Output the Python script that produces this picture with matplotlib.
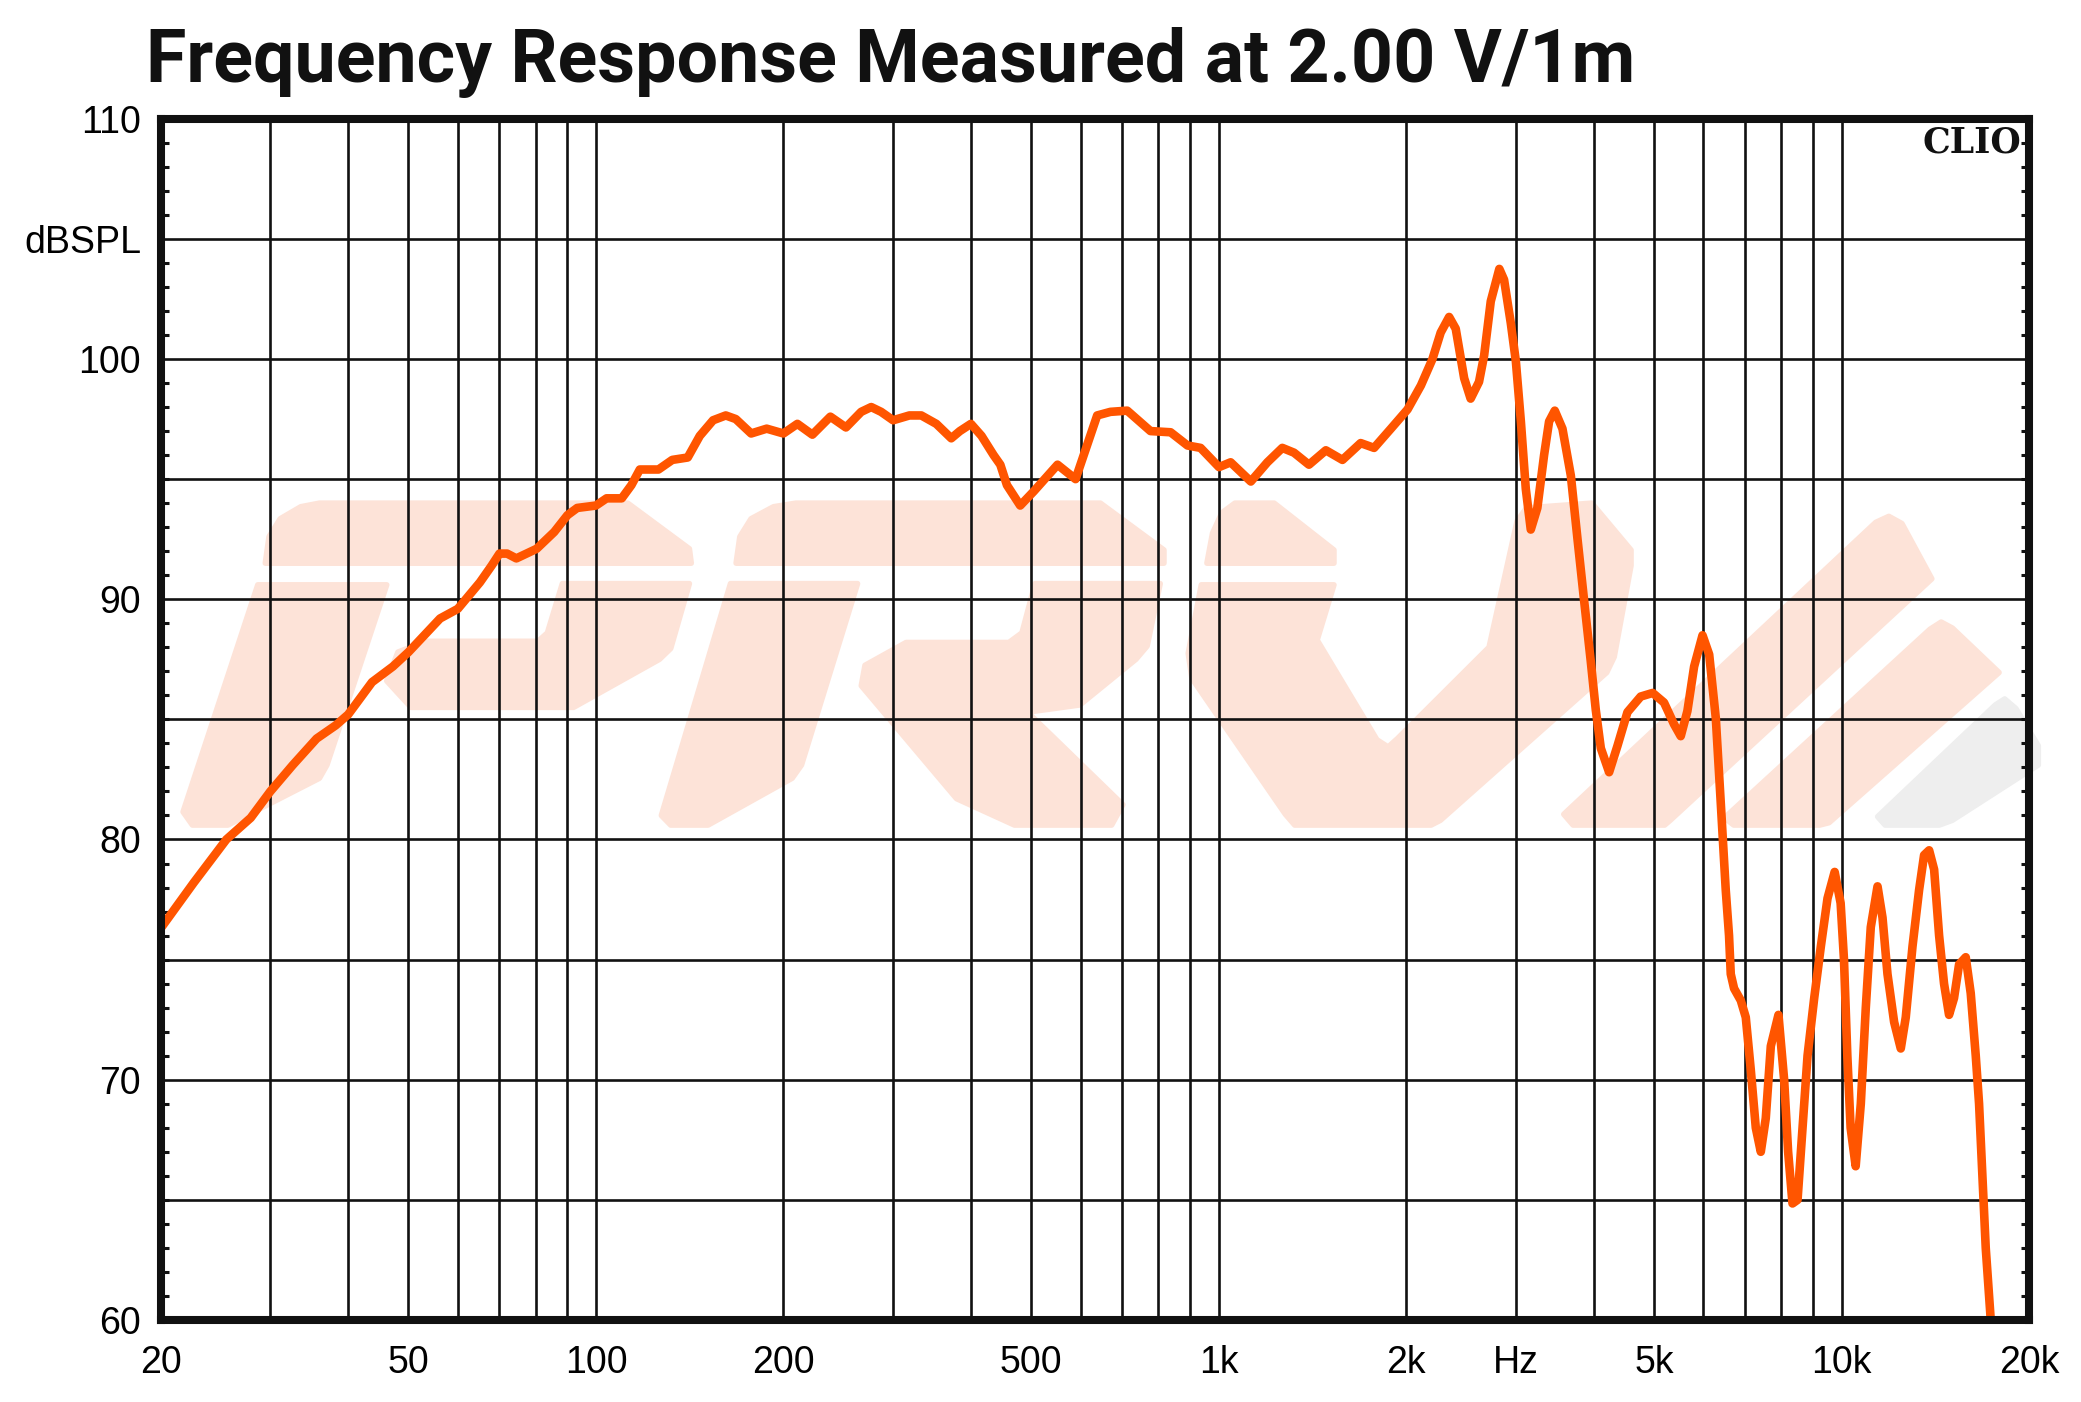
import numpy as np
import matplotlib
matplotlib.use("Agg")
import matplotlib.pyplot as plt
from matplotlib.patches import Polygon

# frequency response
freq_hz = [20, 22.6, 25.5, 27.9, 30, 32.6, 35.6, 38.2, 40, 43.7, 47.2, 50, 56.2, 60,
           65.1, 68, 70, 72, 74.5, 80.3, 85.7, 90, 93.3, 100, 104, 110, 114, 117.6, 126,
           132.6, 140.4, 146.8, 154.2, 161.6, 167.7, 177.5, 188, 200, 210.6, 222.6, 237.9,
           252, 266.6, 276.7, 287, 300, 318.6, 333, 352, 372, 384, 400, 416, 435, 446, 457,
           480, 505, 551, 589, 638, 670, 713, 777, 837, 891, 935, 1001, 1045, 1126, 1197,
           1265, 1321, 1396, 1486, 1580, 1690, 1776, 1890, 2010, 2112, 2204, 2272, 2344,
           2402, 2478, 2538, 2618, 2668, 2734, 2822, 2872, 2944, 3000, 3056, 3112, 3170,
           3248, 3330, 3392, 3464, 3564, 3676, 3768, 3859, 3956, 4031, 4107, 4235, 4368,
           4532, 4760, 4975, 5188, 5383, 5519, 5657, 5799, 5982, 6131, 6283, 6400, 6518,
           6598, 6640, 6722, 6891, 7019, 7151, 7284, 7420, 7558, 7700, 7921, 8089, 8209,
           8343, 8500, 8659, 8820, 9040, 9265, 9496, 9750, 9968, 10092, 10218, 10343,
           10538, 10740, 10940, 11143, 11425, 11637, 11853, 12148, 12450, 12682, 13002,
           13323, 13571, 13826, 14084, 14346, 14610, 14883, 15160, 15445, 15830, 16125,
           16427, 16630, 16837, 17045, 17257, 17364, 17500]
spl_db = [76.3, 78.2, 80.0, 80.9, 82.0, 83.1, 84.2, 84.75, 85.2, 86.55, 87.2, 87.8, 89.2, 89.6,
          90.7, 91.4, 91.9, 91.9, 91.7, 92.1, 92.8, 93.5, 93.8, 93.9, 94.2, 94.2, 94.75, 95.4, 95.4,
          95.8, 95.9, 96.8, 97.45, 97.65, 97.5, 96.9, 97.1, 96.9, 97.3, 96.85, 97.6,
          97.15, 97.8, 98.0, 97.8, 97.45, 97.65, 97.65, 97.3, 96.7, 97.0, 97.3, 96.8, 96.0, 95.6, 94.75,
          93.9, 94.5, 95.6, 95.0, 97.65, 97.8, 97.85, 97.0, 96.95, 96.4, 96.3, 95.5, 95.7, 94.9, 95.7,
          96.3, 96.1, 95.6, 96.2, 95.8, 96.5, 96.3, 97.1, 97.9, 98.9, 100.0, 101.1, 101.75,
          101.26, 99.2, 98.35, 99.05, 100.15, 102.4, 103.75, 103.3, 101.5, 99.9, 97.4, 94.6, 92.9,
          93.8, 96.0, 97.4, 97.85, 97.1, 95.15, 92.5, 90.0, 87.45, 85.4, 83.8, 82.8, 83.9,
          85.3, 85.95, 86.1, 85.7, 84.8, 84.3, 85.35, 87.2, 88.5, 87.7, 85.05, 81.5, 77.9,
          76.0, 74.4, 73.8, 73.3, 72.6, 70.4, 68.0, 67.0, 68.4, 71.4, 72.7, 70.0, 67.0,
          64.85, 65.0, 68.0, 71.0, 73.4, 75.55, 77.55, 78.65, 77.35, 75.0, 71.0, 68.0,
          66.4, 69.0, 73.0, 76.35, 78.05, 76.75, 74.4, 72.4, 71.3, 72.6, 75.55,
          77.9, 79.35, 79.55, 78.75, 76.0, 74.0, 72.7, 73.4, 74.8, 75.1, 73.6,
          71.0, 69.0, 66.0, 63.0, 61.0, 60.0, 58.0]

x_ticks = [20, 50, 100, 200, 500, 1000, 2000, 3000, 5000, 10000, 20000]
x_labels = ["20", "50", "100", "200", "500", "1k", "2k", "Hz", "5k", "10k", "20k"]
y_ticks = [60, 70, 80, 90, 100, 105, 110]
y_labels = ["60", "70", "80", "90", "100", "dBSPL", "110"]

# faint logo behind the grid, in axes fractions
PEACH = "#fde3d8"
logo_shapes = [
    [(0.056, 0.630), (0.058, 0.652), (0.064, 0.667), (0.075, 0.677), (0.085, 0.680), (0.250, 0.680),
     (0.283, 0.642), (0.284, 0.630)],
    [(0.052, 0.612), (0.121, 0.612), (0.089, 0.462), (0.085, 0.451), (0.036, 0.412), (0.017, 0.412), (0.012, 0.423)],
    [(0.215, 0.613), (0.283, 0.613), (0.273, 0.559), (0.267, 0.550), (0.221, 0.510), (0.134, 0.510), (0.121, 0.532),
     (0.127, 0.556), (0.142, 0.565), (0.202, 0.565), (0.207, 0.572)],
    [(0.308, 0.630), (0.310, 0.652), (0.316, 0.667), (0.328, 0.677), (0.340, 0.680), (0.503, 0.680),
     (0.537, 0.641), (0.537, 0.630)],
    [(0.305, 0.613), (0.373, 0.613), (0.343, 0.462), (0.338, 0.451), (0.293, 0.412), (0.273, 0.412), (0.268, 0.420)],
    [(0.468, 0.613), (0.535, 0.613), (0.528, 0.561), (0.522, 0.550), (0.492, 0.512), (0.464, 0.506), (0.515, 0.429),
     (0.509, 0.412), (0.457, 0.412), (0.426, 0.434), (0.375, 0.528), (0.377, 0.545), (0.399, 0.564), (0.454, 0.564),
     (0.461, 0.572)],
    [(0.560, 0.630), (0.563, 0.655), (0.568, 0.672), (0.575, 0.680), (0.596, 0.680), (0.628, 0.641), (0.628, 0.630)],
    [(0.557, 0.612), (0.628, 0.612), (0.619, 0.566), (0.651, 0.483), (0.657, 0.477), (0.662, 0.484), (0.711, 0.560),
     (0.726, 0.665), (0.731, 0.676), (0.766, 0.680), (0.787, 0.641), (0.787, 0.628), (0.778, 0.552), (0.774, 0.539),
     (0.685, 0.416), (0.680, 0.412), (0.607, 0.412), (0.602, 0.421), (0.552, 0.534), (0.550, 0.555)],
    [(0.751, 0.421), (0.918, 0.664), (0.925, 0.669), (0.932, 0.663), (0.948, 0.617), (0.808, 0.416), (0.805, 0.412),
     (0.756, 0.412)],
    [(0.837, 0.418), (0.947, 0.575), (0.953, 0.581), (0.959, 0.576), (0.984, 0.539), (0.893, 0.414), (0.888, 0.412),
     (0.842, 0.412)],
]
logo_grey = [(0.919, 0.419), (0.982, 0.512), (0.987, 0.517), (0.993, 0.509), (1.005, 0.478), (1.005, 0.462),
             (0.959, 0.416), (0.952, 0.412), (0.923, 0.412)]

fig = plt.figure(figsize=(20.81, 14.02), dpi=100)
ax = fig.add_axes([0.0772, 0.0585, 0.8978, 0.8568])

for pts in logo_shapes:
    ax.add_patch(Polygon(pts, closed=True, transform=ax.transAxes, facecolor=PEACH,
                         edgecolor=PEACH, lw=4, joinstyle="round", zorder=0.5))
ax.add_patch(Polygon(logo_grey, closed=True, transform=ax.transAxes, facecolor="#eeeeee",
                     edgecolor="#eeeeee", lw=4, joinstyle="round", zorder=0.5, clip_on=False))

ax.set_xscale("log")
ax.set_xlim(20, 20000)
ax.set_ylim(60, 110)

# grid: every decade step from 30 Hz to 10 kHz, every 5 dB
grid_f = [m * d for d in (10, 100, 1000) for m in range(1, 10) if 20 < m * d] + [10000]
ax.vlines(grid_f, 60, 110, colors="#111111", lw=1.9, zorder=1)
ax.hlines(np.arange(65, 110, 5), 20, 20000, colors="#111111", lw=1.9, zorder=1)

ax.plot(freq_hz, spl_db, color="#ff5500", lw=6.2, solid_capstyle="round",
        solid_joinstyle="round", zorder=3)

ax.set_xticks(x_ticks)
ax.set_xticklabels(x_labels)
ax.xaxis.set_minor_locator(matplotlib.ticker.NullLocator())
ax.set_yticks(y_ticks)
ax.set_yticklabels(y_labels)
ax.set_yticks(np.arange(60, 111, 1), minor=True)
ax.tick_params(axis="x", length=0, pad=18, labelsize=27)
ax.tick_params(axis="y", which="major", length=0, pad=14, labelsize=27)
ax.tick_params(axis="y", which="minor", direction="in", length=6, width=2.2,
               right=True, left=True, color="#111111")
for lab in ax.get_xticklabels() + ax.get_yticklabels():
    lab.set_fontfamily("Liberation Sans")

for s in ax.spines.values():
    s.set_linewidth(5.8)
    s.set_color("#111111")
    s.set_zorder(5)

ax.text(0.9957, 109, "CLIO", transform=ax.get_yaxis_transform(), ha="right", va="center",
        fontsize=25, fontweight="heavy", family="DejaVu Serif", color="#111111", zorder=6)

fig.text(0.0702, 0.9413, "Frequency Response Measured at 2.00 V/1m", ha="left", va="baseline",
         fontsize=53, fontweight="bold", family=["Roboto", "DejaVu Sans"], color="#111111")

fig.savefig("out.png", dpi=100, facecolor="white")
